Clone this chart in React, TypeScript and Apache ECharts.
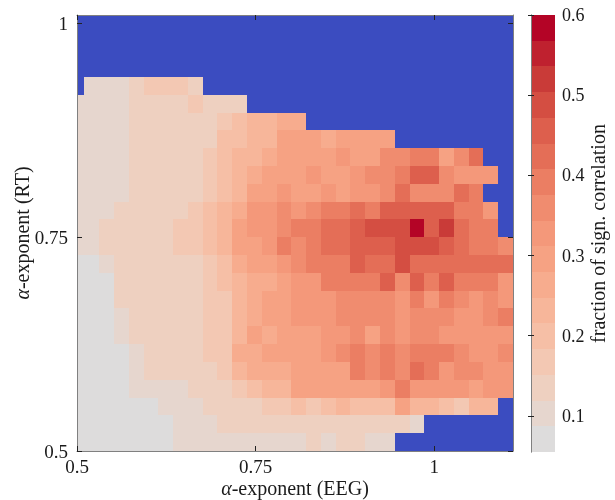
import React, { useEffect, useRef } from 'react';
import * as echarts from 'echarts';

// EEG alpha-exponent (column centres)
const X_VALUES = [
  0.5, 0.5207, 0.5414, 0.5621, 0.5828, 0.6034, 0.6241, 0.6448, 0.6655, 0.6862,
  0.7069, 0.7276, 0.7483, 0.769, 0.7897, 0.8103, 0.831, 0.8517, 0.8724, 0.8931,
  0.9138, 0.9345, 0.9552, 0.9759, 0.9966, 1.0172, 1.0379, 1.0586, 1.0793, 1.1,
];
// RT alpha-exponent (row lower edges; last entry is the upper edge of the top row)
const Y_EDGES = [
  0.5, 0.5208, 0.5417, 0.5625, 0.5833, 0.6042, 0.625, 0.6458, 0.6667, 0.6875,
  0.7083, 0.7292, 0.75, 0.7708, 0.7917, 0.8125, 0.8333, 0.8542, 0.875, 0.8958, 0.9167, 0.9375,
];

const _ = null;
const R00 = [0.065,0.065,0.065,0.065,0.065,0.07,0.08,0.09,0.1,0.09,0.1,0.1,0.11,0.1,0.1,0.11,0.12,0.11,0.12,0.12,0.1,0.09,_,_,_,_,_,_,_,_];
const R01 = [0.065,0.065,0.065,0.07,0.07,0.07,0.08,0.09,0.1,0.11,0.12,0.12,0.13,0.13,0.13,0.13,0.14,0.14,0.13,0.14,0.13,0.12,0.12,0.1,_,_,_,_,_,_];
const R02 = [0.07,0.07,0.07,0.075,0.08,0.08,0.09,0.1,0.11,0.12,0.13,0.14,0.15,0.16,0.17,0.2,0.18,0.2,0.22,0.2,0.2,0.21,0.3,0.22,0.22,0.2,0.18,0.22,0.24,_];
const R03 = [0.07,0.07,0.07,0.075,0.09,0.09,0.11,0.11,0.12,0.13,0.15,0.18,0.21,0.22,0.23,0.3,0.3,0.29,0.3,0.3,0.3,0.34,0.38,0.34,0.34,0.33,0.33,0.3,0.32,0.34];
const R04 = [0.07,0.07,0.07,0.08,0.1,0.12,0.12,0.12,0.13,0.15,0.17,0.22,0.26,0.26,0.27,0.28,0.28,0.3,0.3,0.38,0.37,0.38,0.36,0.42,0.38,0.33,0.36,0.36,0.34,0.32];
const R05 = [0.07,0.07,0.07,0.08,0.11,0.13,0.13,0.13,0.13,0.16,0.18,0.27,0.27,0.3,0.29,0.3,0.3,0.32,0.36,0.38,0.36,0.38,0.36,0.38,0.38,0.38,0.36,0.33,0.33,0.36];
const R06 = [0.07,0.07,0.07,0.09,0.12,0.12,0.12,0.13,0.13,0.16,0.18,0.23,0.28,0.27,0.3,0.3,0.3,0.33,0.33,0.36,0.3,0.36,0.33,0.36,0.36,0.34,0.33,0.34,0.34,0.34];
const R07 = [0.07,0.07,0.07,0.1,0.13,0.13,0.13,0.13,0.14,0.16,0.18,0.24,0.27,0.29,0.28,0.32,0.32,0.32,0.36,0.36,0.36,0.36,0.33,0.36,0.36,0.36,0.34,0.34,0.36,0.4];
const R08 = [0.07,0.07,0.08,0.12,0.12,0.12,0.14,0.14,0.14,0.16,0.18,0.24,0.26,0.28,0.28,0.32,0.32,0.32,0.36,0.36,0.36,0.36,0.33,0.4,0.33,0.4,0.36,0.33,0.36,0.33];
const R09 = [0.07,0.07,0.08,0.12,0.13,0.13,0.14,0.14,0.14,0.16,0.19,0.24,0.27,0.27,0.3,0.32,0.32,0.38,0.38,0.4,0.38,0.45,0.35,0.45,0.38,0.45,0.38,0.38,0.38,0.33];
const R10 = [0.07,0.08,0.09,0.12,0.14,0.14,0.14,0.15,0.15,0.17,0.2,0.25,0.28,0.3,0.33,0.36,0.38,0.38,0.4,0.44,0.42,0.42,0.48,0.42,0.42,0.42,0.42,0.42,0.42,0.42];
const R11 = [0.09,0.1,0.12,0.13,0.14,0.14,0.15,0.16,0.18,0.21,0.24,0.28,0.3,0.34,0.38,0.36,0.38,0.42,0.42,0.47,0.47,0.47,0.5,0.48,0.5,0.45,0.42,0.4,0.38,0.36];
const R12 = [0.1,0.11,0.12,0.13,0.14,0.14,0.15,0.16,0.18,0.2,0.24,0.28,0.34,0.33,0.37,0.4,0.4,0.42,0.43,0.47,0.48,0.5,0.5,0.58,0.45,0.53,0.42,0.4,0.38,_];
const R13 = [0.09,0.1,0.11,0.12,0.13,0.13,0.14,0.15,0.17,0.19,0.22,0.27,0.33,0.32,0.36,0.34,0.36,0.4,0.38,0.42,0.4,0.45,0.47,0.47,0.47,0.47,0.38,0.38,0.33,_];
const R14 = [0.09,0.1,0.1,0.11,0.12,0.13,0.13,0.14,0.15,0.18,0.21,0.24,0.28,0.3,0.33,0.3,0.3,0.33,0.3,0.33,0.33,0.35,0.42,0.35,0.35,0.37,0.43,0.4,_,_];
const R15 = [0.09,0.1,0.1,0.11,0.12,0.12,0.13,0.13,0.15,0.17,0.2,0.23,0.25,0.3,0.29,0.3,0.32,0.29,0.28,0.33,0.36,0.37,0.38,0.44,0.44,0.36,0.34,0.34,0.33,_];
const R16 = [0.09,0.1,0.1,0.11,0.12,0.12,0.13,0.13,0.14,0.16,0.19,0.22,0.24,0.26,0.3,0.29,0.31,0.3,0.33,0.31,0.3,0.37,0.36,0.38,0.38,0.3,0.35,0.42,_,_];
const R17 = [0.09,0.1,0.1,0.11,0.12,0.12,0.12,0.13,0.14,0.15,0.19,0.21,0.22,0.24,0.28,0.3,0.3,0.27,0.3,0.3,0.3,0.3,_,_,_,_,_,_,_,_];
const R18 = [0.09,0.11,0.1,0.11,0.12,0.13,0.14,0.13,0.13,0.15,0.17,0.21,0.22,0.22,0.27,0.27,_,_,_,_,_,_,_,_,_,_,_,_,_,_];
const R19 = [0.1,0.11,0.1,0.1,0.12,0.12,0.12,0.13,0.16,0.14,0.14,0.13,_,_,_,_,_,_,_,_,_,_,_,_,_,_,_,_,_,_];
const R20 = [_,0.11,0.1,0.1,0.12,0.16,0.17,0.18,0.12,_,_,_,_,_,_,_,_,_,_,_,_,_,_,_,_,_,_,_,_,_];
const ROWS = [R00,R01,R02,R03,R04,R05,R06,R07,R08,R09,R10,R11,R12,R13,R14,R15,R16,R17,R18,R19,R20];

const X_TICKS = [0.5, 0.75, 1];
const Y_TICKS = [0.5, 0.75, 1];
const CB_TICKS = [0.1, 0.2, 0.3, 0.4, 0.5, 0.6];
const CB_MIN = 0.055;
const CB_MAX = 0.6;
const N_BANDS = 17;
const COLORS = ['#dddcdc', '#ecd3c5', '#f4c6b0', '#f7b89c', '#f7a889', '#f4987a', '#ee8468', '#e36b55', '#d65244', '#c53334', '#b40426'];
const NAN_COLOR = '#3b4cc0';

const FONT = 'Liberation Serif';
const TXT = '#1a1a1a';

export default function App() {
  const ref = useRef<HTMLDivElement>(null);
  useEffect(() => {
    const chart = echarts.init(ref.current!, null, { renderer: 'svg' });
    const n = X_VALUES.length;
    const DX = X_VALUES[1] - X_VALUES[0];
    const XMAX = X_VALUES[n - 1] + DX / 2;
    const xl = (i: number) => (i === 0 ? X_VALUES[0] - DX / 2 : (X_VALUES[i - 1] + X_VALUES[i]) / 2);
    const xr = (i: number) => (i === n - 1 ? XMAX : (X_VALUES[i] + X_VALUES[i + 1]) / 2);
    const cells: number[][] = [];
    ROWS.forEach((row, k) => row.forEach((v, i) => {
      if (v !== null) cells.push([X_VALUES[i], Y_EDGES[k], v as number, xl(i), xr(i), Y_EDGES[k + 1]]);
    }));
    const bands: number[][] = [];
    const bw = (CB_MAX - CB_MIN) / N_BANDS;
    for (let b = 0; b < N_BANDS; b++) {
      const lo = CB_MIN + b * bw;
      bands.push([lo, lo + bw, lo + bw / 2]);
    }
    const tickStyle = { show: true, inside: true, length: 5, lineStyle: { color: '#222', width: 1 } };
    const lineStyle = { show: true, lineStyle: { color: '#808080', width: 1 } };
    const lbl = { fontFamily: FONT, fontSize: 19, color: TXT };
    const rich = { a: { fontStyle: 'italic', fontFamily: FONT, fontSize: 20, lineHeight: 20, color: TXT } };

    chart.setOption({
      animation: false,
      grid: [
        { left: 77, top: 15, width: 436, height: 436, show: true, backgroundColor: NAN_COLOR, borderWidth: 0, containLabel: false, outerBoundsMode: 'none' },
        { left: 531, top: 15, width: 24, height: 437, show: false, containLabel: false, outerBoundsMode: 'none' },
      ],
      xAxis: [
        {
          gridIndex: 0, type: 'value', min: 0.5, max: XMAX, position: 'bottom', z: 10,
          axisLine: lineStyle, splitLine: { show: false },
          axisTick: { ...tickStyle, customValues: X_TICKS },
          axisLabel: { ...lbl, margin: 6, customValues: X_TICKS, formatter: (v: number) => String(v) },
          name: '{a|α}-exponent (EEG)', nameLocation: 'middle', nameGap: 27, nameMoveOverlap: false,
          nameTextStyle: { fontFamily: FONT, fontSize: 20, lineHeight: 20, color: TXT, rich },
        },
        {
          gridIndex: 0, type: 'value', min: 0.5, max: XMAX, position: 'top', z: 10,
          axisLine: lineStyle, splitLine: { show: false },
          axisTick: { ...tickStyle, customValues: X_TICKS },
          axisLabel: { show: false },
        },
        { gridIndex: 1, type: 'value', min: 0, max: 1, show: false },
      ],
      yAxis: [
        {
          gridIndex: 0, type: 'value', min: 0.5, max: 1.01, position: 'left', z: 10,
          axisLine: lineStyle, splitLine: { show: false },
          axisTick: { ...tickStyle, customValues: Y_TICKS },
          axisLabel: { ...lbl, margin: 9, customValues: Y_TICKS, formatter: (v: number) => String(v) },
          name: '{a|α}-exponent (RT)', nameLocation: 'middle', nameGap: 45, nameRotate: 90, nameMoveOverlap: false,
          nameTextStyle: { fontFamily: FONT, fontSize: 20, lineHeight: 20, color: TXT, rich },
        },
        {
          gridIndex: 0, type: 'value', min: 0.5, max: 1.01, position: 'right', z: 10,
          axisLine: lineStyle, splitLine: { show: false },
          axisTick: { ...tickStyle, customValues: Y_TICKS },
          axisLabel: { show: false },
        },
        {
          gridIndex: 1, type: 'value', min: CB_MIN, max: CB_MAX, position: 'right', z: 10,
          axisLine: lineStyle, splitLine: { show: false },
          axisTick: { ...tickStyle, length: 3, customValues: CB_TICKS },
          axisLabel: { ...lbl, fontSize: 18, margin: 7, customValues: CB_TICKS, formatter: (v: number) => String(v) },
          name: 'fraction of sign. correlation', nameLocation: 'middle', nameGap: 33, nameRotate: 90, nameMoveOverlap: false,
          nameTextStyle: { fontFamily: FONT, fontSize: 20, lineHeight: 20, color: TXT },
        },
        {
          gridIndex: 1, type: 'value', min: CB_MIN, max: CB_MAX, position: 'left', z: 10,
          axisLine: lineStyle, splitLine: { show: false },
          axisTick: { ...tickStyle, length: 3, customValues: CB_TICKS },
          axisLabel: { show: false },
        },
      ],
      visualMap: {
        type: 'piecewise', show: false, min: CB_MIN, max: CB_MAX, splitNumber: N_BANDS,
        dimension: 2, seriesIndex: [0, 1], inRange: { color: COLORS },
      },
      series: [
        {
          type: 'custom', xAxisIndex: 0, yAxisIndex: 0, clip: true, data: cells,
          renderItem: (params: any, api: any) => {
            const p0 = api.coord([api.value(3), api.value(5)]);
            const p1 = api.coord([api.value(4), api.value(1)]);
            const x0 = Math.round(p0[0]), x1 = Math.round(p1[0]);
            const y0 = Math.round(p0[1]), y1 = Math.round(p1[1]);
            return { type: 'rect', shape: { x: x0, y: y0, width: x1 - x0, height: y1 - y0 }, style: { fill: api.visual('color') } };
          },
        },
        {
          type: 'custom', xAxisIndex: 2, yAxisIndex: 2, data: bands,
          renderItem: (params: any, api: any) => {
            const p0 = api.coord([0, api.value(1)]);
            const p1 = api.coord([1, api.value(0)]);
            const y0 = Math.round(p0[1]), y1 = Math.round(p1[1]);
            return { type: 'rect', shape: { x: p0[0], y: y0, width: p1[0] - p0[0], height: y1 - y0 }, style: { fill: api.visual('color') } };
          },
        },
      ],
    });
    return () => chart.dispose();
  }, []);
  return <div ref={ref} style={{ position: 'fixed', left: 0, top: 0, width: 615, height: 500 }} />;
}
